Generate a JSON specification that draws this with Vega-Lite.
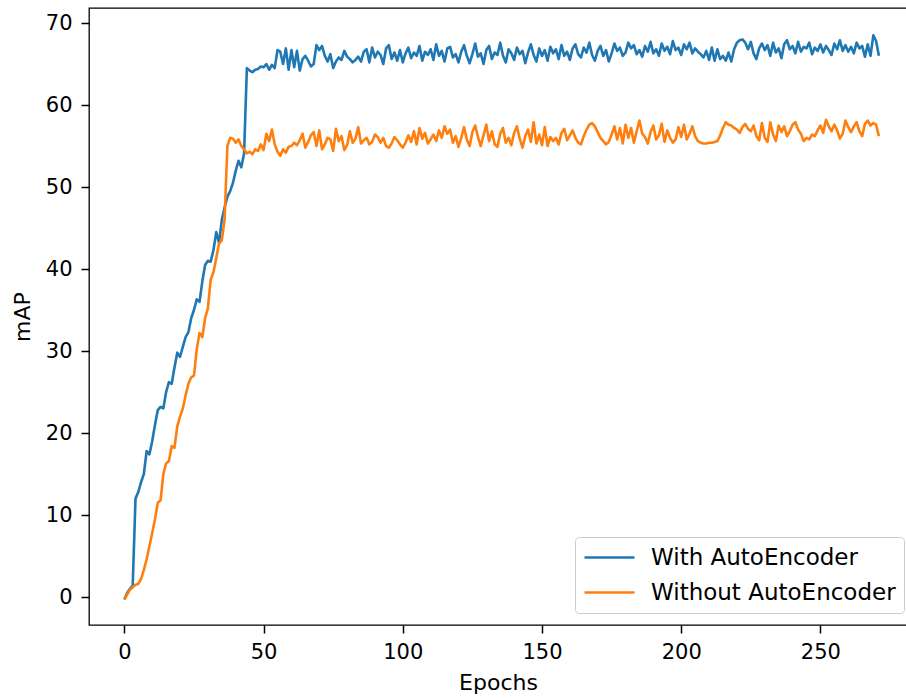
{
"$schema": "https://vega.github.io/schema/vega-lite/v6.json",
"width": 818, "height": 617,
"autosize": {"type": "none"},
"padding": {"left": 89, "top": 8, "right": 0, "bottom": 73},
"background": "white",
"data": {"values": [
{"e":0,"With AutoEncoder":-0.3,"Without AutoEncoder":-0.3},
{"e":1,"With AutoEncoder":0.5,"Without AutoEncoder":0.3},
{"e":2,"With AutoEncoder":1.0,"Without AutoEncoder":0.9},
{"e":3,"With AutoEncoder":1.4,"Without AutoEncoder":1.2},
{"e":4,"With AutoEncoder":12.0,"Without AutoEncoder":1.5},
{"e":5,"With AutoEncoder":12.8,"Without AutoEncoder":1.6},
{"e":6,"With AutoEncoder":14.0,"Without AutoEncoder":2.2},
{"e":7,"With AutoEncoder":15.0,"Without AutoEncoder":3.3},
{"e":8,"With AutoEncoder":17.8,"Without AutoEncoder":4.6},
{"e":9,"With AutoEncoder":17.4,"Without AutoEncoder":6.2},
{"e":10,"With AutoEncoder":19.0,"Without AutoEncoder":7.8},
{"e":11,"With AutoEncoder":21.0,"Without AutoEncoder":9.5},
{"e":12,"With AutoEncoder":22.8,"Without AutoEncoder":11.5},
{"e":13,"With AutoEncoder":23.2,"Without AutoEncoder":11.8},
{"e":14,"With AutoEncoder":23.0,"Without AutoEncoder":15.0},
{"e":15,"With AutoEncoder":25.0,"Without AutoEncoder":16.3},
{"e":16,"With AutoEncoder":26.2,"Without AutoEncoder":16.6},
{"e":17,"With AutoEncoder":26.0,"Without AutoEncoder":18.4},
{"e":18,"With AutoEncoder":28.0,"Without AutoEncoder":18.2},
{"e":19,"With AutoEncoder":29.8,"Without AutoEncoder":20.8},
{"e":20,"With AutoEncoder":29.3,"Without AutoEncoder":22.0},
{"e":21,"With AutoEncoder":30.5,"Without AutoEncoder":23.0},
{"e":22,"With AutoEncoder":31.7,"Without AutoEncoder":24.6},
{"e":23,"With AutoEncoder":32.3,"Without AutoEncoder":26.0},
{"e":24,"With AutoEncoder":34.0,"Without AutoEncoder":26.8},
{"e":25,"With AutoEncoder":35.0,"Without AutoEncoder":27.0},
{"e":26,"With AutoEncoder":36.3,"Without AutoEncoder":30.2},
{"e":27,"With AutoEncoder":36.0,"Without AutoEncoder":32.2},
{"e":28,"With AutoEncoder":38.5,"Without AutoEncoder":31.7},
{"e":29,"With AutoEncoder":40.5,"Without AutoEncoder":34.0},
{"e":30,"With AutoEncoder":41.0,"Without AutoEncoder":35.2},
{"e":31,"With AutoEncoder":40.9,"Without AutoEncoder":38.7},
{"e":32,"With AutoEncoder":42.3,"Without AutoEncoder":39.6},
{"e":33,"With AutoEncoder":44.5,"Without AutoEncoder":41.3},
{"e":34,"With AutoEncoder":43.2,"Without AutoEncoder":43.1},
{"e":35,"With AutoEncoder":46.0,"Without AutoEncoder":43.5},
{"e":36,"With AutoEncoder":47.5,"Without AutoEncoder":46.0},
{"e":37,"With AutoEncoder":48.8,"Without AutoEncoder":55.0},
{"e":38,"With AutoEncoder":49.5,"Without AutoEncoder":56.0},
{"e":39,"With AutoEncoder":50.5,"Without AutoEncoder":55.9},
{"e":40,"With AutoEncoder":52.0,"Without AutoEncoder":55.4},
{"e":41,"With AutoEncoder":53.2,"Without AutoEncoder":55.8},
{"e":42,"With AutoEncoder":52.4,"Without AutoEncoder":55.0},
{"e":43,"With AutoEncoder":54.1,"Without AutoEncoder":54.6},
{"e":44,"With AutoEncoder":64.5,"Without AutoEncoder":54.1},
{"e":45,"With AutoEncoder":64.2,"Without AutoEncoder":54.3},
{"e":46,"With AutoEncoder":64.0,"Without AutoEncoder":54.0},
{"e":47,"With AutoEncoder":64.3,"Without AutoEncoder":54.6},
{"e":48,"With AutoEncoder":64.4,"Without AutoEncoder":54.4},
{"e":49,"With AutoEncoder":64.7,"Without AutoEncoder":55.2},
{"e":50,"With AutoEncoder":64.6,"Without AutoEncoder":54.5},
{"e":51,"With AutoEncoder":65.0,"Without AutoEncoder":56.5},
{"e":52,"With AutoEncoder":64.3,"Without AutoEncoder":55.6},
{"e":53,"With AutoEncoder":64.9,"Without AutoEncoder":57.0},
{"e":54,"With AutoEncoder":64.5,"Without AutoEncoder":55.2},
{"e":55,"With AutoEncoder":66.7,"Without AutoEncoder":54.3},
{"e":56,"With AutoEncoder":66.5,"Without AutoEncoder":53.8},
{"e":57,"With AutoEncoder":65.0,"Without AutoEncoder":54.6},
{"e":58,"With AutoEncoder":66.9,"Without AutoEncoder":54.2},
{"e":59,"With AutoEncoder":64.3,"Without AutoEncoder":54.9},
{"e":60,"With AutoEncoder":66.7,"Without AutoEncoder":55.0},
{"e":61,"With AutoEncoder":64.6,"Without AutoEncoder":55.4},
{"e":62,"With AutoEncoder":66.6,"Without AutoEncoder":55.1},
{"e":63,"With AutoEncoder":64.2,"Without AutoEncoder":55.7},
{"e":64,"With AutoEncoder":65.6,"Without AutoEncoder":56.5},
{"e":65,"With AutoEncoder":66.0,"Without AutoEncoder":54.8},
{"e":66,"With AutoEncoder":65.4,"Without AutoEncoder":55.5},
{"e":67,"With AutoEncoder":64.7,"Without AutoEncoder":56.3},
{"e":68,"With AutoEncoder":65.0,"Without AutoEncoder":56.7},
{"e":69,"With AutoEncoder":67.3,"Without AutoEncoder":55.0},
{"e":70,"With AutoEncoder":66.7,"Without AutoEncoder":56.9},
{"e":71,"With AutoEncoder":67.2,"Without AutoEncoder":54.6},
{"e":72,"With AutoEncoder":66.0,"Without AutoEncoder":55.2},
{"e":73,"With AutoEncoder":65.3,"Without AutoEncoder":56.0},
{"e":74,"With AutoEncoder":66.2,"Without AutoEncoder":55.8},
{"e":75,"With AutoEncoder":64.5,"Without AutoEncoder":54.4},
{"e":76,"With AutoEncoder":65.3,"Without AutoEncoder":57.1},
{"e":77,"With AutoEncoder":65.8,"Without AutoEncoder":55.6},
{"e":78,"With AutoEncoder":65.5,"Without AutoEncoder":56.2},
{"e":79,"With AutoEncoder":66.6,"Without AutoEncoder":54.5},
{"e":80,"With AutoEncoder":65.9,"Without AutoEncoder":55.1},
{"e":81,"With AutoEncoder":65.6,"Without AutoEncoder":56.8},
{"e":82,"With AutoEncoder":65.2,"Without AutoEncoder":55.4},
{"e":83,"With AutoEncoder":65.5,"Without AutoEncoder":55.9},
{"e":84,"With AutoEncoder":65.9,"Without AutoEncoder":57.3},
{"e":85,"With AutoEncoder":65.3,"Without AutoEncoder":55.3},
{"e":86,"With AutoEncoder":66.5,"Without AutoEncoder":55.7},
{"e":87,"With AutoEncoder":66.8,"Without AutoEncoder":56.0},
{"e":88,"With AutoEncoder":65.2,"Without AutoEncoder":55.2},
{"e":89,"With AutoEncoder":67.0,"Without AutoEncoder":55.5},
{"e":90,"With AutoEncoder":65.8,"Without AutoEncoder":56.4},
{"e":91,"With AutoEncoder":66.5,"Without AutoEncoder":56.1},
{"e":92,"With AutoEncoder":66.1,"Without AutoEncoder":55.4},
{"e":93,"With AutoEncoder":65.0,"Without AutoEncoder":56.0},
{"e":94,"With AutoEncoder":66.9,"Without AutoEncoder":55.0},
{"e":95,"With AutoEncoder":67.3,"Without AutoEncoder":54.8},
{"e":96,"With AutoEncoder":65.6,"Without AutoEncoder":55.3},
{"e":97,"With AutoEncoder":66.4,"Without AutoEncoder":56.1},
{"e":98,"With AutoEncoder":65.4,"Without AutoEncoder":55.7},
{"e":99,"With AutoEncoder":66.7,"Without AutoEncoder":55.2},
{"e":100,"With AutoEncoder":65.2,"Without AutoEncoder":54.8},
{"e":101,"With AutoEncoder":66.3,"Without AutoEncoder":55.4},
{"e":102,"With AutoEncoder":67.0,"Without AutoEncoder":56.3},
{"e":103,"With AutoEncoder":65.7,"Without AutoEncoder":55.5},
{"e":104,"With AutoEncoder":66.4,"Without AutoEncoder":56.8},
{"e":105,"With AutoEncoder":66.0,"Without AutoEncoder":55.2},
{"e":106,"With AutoEncoder":67.2,"Without AutoEncoder":57.2},
{"e":107,"With AutoEncoder":65.4,"Without AutoEncoder":55.9},
{"e":108,"With AutoEncoder":66.5,"Without AutoEncoder":56.6},
{"e":109,"With AutoEncoder":66.1,"Without AutoEncoder":55.3},
{"e":110,"With AutoEncoder":66.8,"Without AutoEncoder":55.8},
{"e":111,"With AutoEncoder":65.5,"Without AutoEncoder":56.4},
{"e":112,"With AutoEncoder":67.4,"Without AutoEncoder":55.6},
{"e":113,"With AutoEncoder":66.0,"Without AutoEncoder":56.9},
{"e":114,"With AutoEncoder":66.6,"Without AutoEncoder":56.0},
{"e":115,"With AutoEncoder":65.3,"Without AutoEncoder":57.4},
{"e":116,"With AutoEncoder":66.9,"Without AutoEncoder":56.5},
{"e":117,"With AutoEncoder":67.1,"Without AutoEncoder":57.0},
{"e":118,"With AutoEncoder":65.8,"Without AutoEncoder":55.4},
{"e":119,"With AutoEncoder":66.2,"Without AutoEncoder":56.2},
{"e":120,"With AutoEncoder":65.2,"Without AutoEncoder":54.9},
{"e":121,"With AutoEncoder":66.5,"Without AutoEncoder":56.0},
{"e":122,"With AutoEncoder":67.3,"Without AutoEncoder":57.3},
{"e":123,"With AutoEncoder":66.0,"Without AutoEncoder":55.8},
{"e":124,"With AutoEncoder":65.1,"Without AutoEncoder":55.0},
{"e":125,"With AutoEncoder":66.2,"Without AutoEncoder":56.7},
{"e":126,"With AutoEncoder":67.5,"Without AutoEncoder":57.5},
{"e":127,"With AutoEncoder":65.9,"Without AutoEncoder":56.1},
{"e":128,"With AutoEncoder":66.3,"Without AutoEncoder":55.0},
{"e":129,"With AutoEncoder":65.0,"Without AutoEncoder":56.3},
{"e":130,"With AutoEncoder":66.7,"Without AutoEncoder":57.6},
{"e":131,"With AutoEncoder":67.2,"Without AutoEncoder":55.6},
{"e":132,"With AutoEncoder":65.6,"Without AutoEncoder":56.8},
{"e":133,"With AutoEncoder":66.4,"Without AutoEncoder":55.2},
{"e":134,"With AutoEncoder":66.1,"Without AutoEncoder":54.9},
{"e":135,"With AutoEncoder":67.6,"Without AutoEncoder":56.5},
{"e":136,"With AutoEncoder":66.0,"Without AutoEncoder":57.2},
{"e":137,"With AutoEncoder":65.2,"Without AutoEncoder":55.4},
{"e":138,"With AutoEncoder":66.8,"Without AutoEncoder":56.0},
{"e":139,"With AutoEncoder":66.3,"Without AutoEncoder":55.1},
{"e":140,"With AutoEncoder":65.5,"Without AutoEncoder":56.6},
{"e":141,"With AutoEncoder":67.0,"Without AutoEncoder":57.4},
{"e":142,"With AutoEncoder":66.2,"Without AutoEncoder":55.9},
{"e":143,"With AutoEncoder":66.6,"Without AutoEncoder":54.8},
{"e":144,"With AutoEncoder":65.1,"Without AutoEncoder":56.2},
{"e":145,"With AutoEncoder":66.4,"Without AutoEncoder":57.0},
{"e":146,"With AutoEncoder":67.4,"Without AutoEncoder":55.5},
{"e":147,"With AutoEncoder":66.1,"Without AutoEncoder":57.9},
{"e":148,"With AutoEncoder":65.3,"Without AutoEncoder":55.3},
{"e":149,"With AutoEncoder":66.9,"Without AutoEncoder":56.4},
{"e":150,"With AutoEncoder":66.0,"Without AutoEncoder":55.1},
{"e":151,"With AutoEncoder":66.7,"Without AutoEncoder":57.3},
{"e":152,"With AutoEncoder":65.4,"Without AutoEncoder":55.0},
{"e":153,"With AutoEncoder":67.1,"Without AutoEncoder":56.1},
{"e":154,"With AutoEncoder":66.3,"Without AutoEncoder":55.6},
{"e":155,"With AutoEncoder":66.8,"Without AutoEncoder":56.0},
{"e":156,"With AutoEncoder":65.6,"Without AutoEncoder":55.2},
{"e":157,"With AutoEncoder":67.3,"Without AutoEncoder":56.6},
{"e":158,"With AutoEncoder":66.0,"Without AutoEncoder":57.1},
{"e":159,"With AutoEncoder":66.5,"Without AutoEncoder":55.7},
{"e":160,"With AutoEncoder":65.5,"Without AutoEncoder":56.3},
{"e":161,"With AutoEncoder":66.9,"Without AutoEncoder":56.9},
{"e":162,"With AutoEncoder":67.4,"Without AutoEncoder":56.0},
{"e":163,"With AutoEncoder":66.2,"Without AutoEncoder":55.4},
{"e":164,"With AutoEncoder":65.8,"Without AutoEncoder":55.2},
{"e":165,"With AutoEncoder":67.0,"Without AutoEncoder":56.2},
{"e":166,"With AutoEncoder":66.4,"Without AutoEncoder":57.0},
{"e":167,"With AutoEncoder":67.6,"Without AutoEncoder":57.6},
{"e":168,"With AutoEncoder":66.1,"Without AutoEncoder":57.8},
{"e":169,"With AutoEncoder":65.4,"Without AutoEncoder":57.4},
{"e":170,"With AutoEncoder":66.6,"Without AutoEncoder":56.7},
{"e":171,"With AutoEncoder":67.2,"Without AutoEncoder":56.0},
{"e":172,"With AutoEncoder":66.0,"Without AutoEncoder":55.6},
{"e":173,"With AutoEncoder":66.7,"Without AutoEncoder":55.2},
{"e":174,"With AutoEncoder":65.3,"Without AutoEncoder":55.5},
{"e":175,"With AutoEncoder":66.3,"Without AutoEncoder":56.4},
{"e":176,"With AutoEncoder":67.5,"Without AutoEncoder":57.4},
{"e":177,"With AutoEncoder":66.6,"Without AutoEncoder":55.8},
{"e":178,"With AutoEncoder":67.0,"Without AutoEncoder":57.2},
{"e":179,"With AutoEncoder":66.0,"Without AutoEncoder":55.3},
{"e":180,"With AutoEncoder":66.4,"Without AutoEncoder":57.6},
{"e":181,"With AutoEncoder":67.6,"Without AutoEncoder":56.0},
{"e":182,"With AutoEncoder":66.9,"Without AutoEncoder":57.2},
{"e":183,"With AutoEncoder":67.3,"Without AutoEncoder":55.4},
{"e":184,"With AutoEncoder":66.2,"Without AutoEncoder":56.8},
{"e":185,"With AutoEncoder":66.7,"Without AutoEncoder":58.1},
{"e":186,"With AutoEncoder":65.9,"Without AutoEncoder":56.5},
{"e":187,"With AutoEncoder":67.2,"Without AutoEncoder":56.1},
{"e":188,"With AutoEncoder":66.5,"Without AutoEncoder":55.3},
{"e":189,"With AutoEncoder":67.7,"Without AutoEncoder":56.7},
{"e":190,"With AutoEncoder":66.3,"Without AutoEncoder":57.5},
{"e":191,"With AutoEncoder":66.8,"Without AutoEncoder":55.8},
{"e":192,"With AutoEncoder":66.0,"Without AutoEncoder":56.3},
{"e":193,"With AutoEncoder":67.5,"Without AutoEncoder":57.7},
{"e":194,"With AutoEncoder":66.6,"Without AutoEncoder":55.5},
{"e":195,"With AutoEncoder":67.1,"Without AutoEncoder":56.9},
{"e":196,"With AutoEncoder":66.2,"Without AutoEncoder":56.0},
{"e":197,"With AutoEncoder":67.8,"Without AutoEncoder":55.4},
{"e":198,"With AutoEncoder":66.7,"Without AutoEncoder":55.8},
{"e":199,"With AutoEncoder":67.0,"Without AutoEncoder":57.3},
{"e":200,"With AutoEncoder":66.1,"Without AutoEncoder":56.1},
{"e":201,"With AutoEncoder":67.4,"Without AutoEncoder":57.6},
{"e":202,"With AutoEncoder":66.8,"Without AutoEncoder":55.8},
{"e":203,"With AutoEncoder":67.6,"Without AutoEncoder":56.5},
{"e":204,"With AutoEncoder":66.3,"Without AutoEncoder":57.4},
{"e":205,"With AutoEncoder":66.9,"Without AutoEncoder":56.2},
{"e":206,"With AutoEncoder":66.5,"Without AutoEncoder":55.6},
{"e":207,"With AutoEncoder":66.2,"Without AutoEncoder":55.4},
{"e":208,"With AutoEncoder":65.8,"Without AutoEncoder":55.3},
{"e":209,"With AutoEncoder":66.6,"Without AutoEncoder":55.3},
{"e":210,"With AutoEncoder":65.5,"Without AutoEncoder":55.4},
{"e":211,"With AutoEncoder":67.0,"Without AutoEncoder":55.4},
{"e":212,"With AutoEncoder":65.4,"Without AutoEncoder":55.5},
{"e":213,"With AutoEncoder":66.8,"Without AutoEncoder":55.6},
{"e":214,"With AutoEncoder":65.6,"Without AutoEncoder":56.3},
{"e":215,"With AutoEncoder":66.0,"Without AutoEncoder":57.2},
{"e":216,"With AutoEncoder":65.4,"Without AutoEncoder":57.9},
{"e":217,"With AutoEncoder":66.4,"Without AutoEncoder":57.6},
{"e":218,"With AutoEncoder":65.3,"Without AutoEncoder":57.5},
{"e":219,"With AutoEncoder":66.8,"Without AutoEncoder":57.2},
{"e":220,"With AutoEncoder":67.6,"Without AutoEncoder":57.0},
{"e":221,"With AutoEncoder":67.9,"Without AutoEncoder":56.6},
{"e":222,"With AutoEncoder":68.0,"Without AutoEncoder":57.3},
{"e":223,"With AutoEncoder":67.6,"Without AutoEncoder":57.7},
{"e":224,"With AutoEncoder":66.8,"Without AutoEncoder":57.1},
{"e":225,"With AutoEncoder":67.7,"Without AutoEncoder":56.8},
{"e":226,"With AutoEncoder":66.3,"Without AutoEncoder":57.5},
{"e":227,"With AutoEncoder":65.6,"Without AutoEncoder":56.2},
{"e":228,"With AutoEncoder":66.9,"Without AutoEncoder":55.7},
{"e":229,"With AutoEncoder":67.5,"Without AutoEncoder":57.8},
{"e":230,"With AutoEncoder":66.7,"Without AutoEncoder":56.0},
{"e":231,"With AutoEncoder":67.3,"Without AutoEncoder":55.5},
{"e":232,"With AutoEncoder":66.0,"Without AutoEncoder":57.9},
{"e":233,"With AutoEncoder":67.6,"Without AutoEncoder":56.4},
{"e":234,"With AutoEncoder":66.4,"Without AutoEncoder":55.6},
{"e":235,"With AutoEncoder":66.9,"Without AutoEncoder":57.5},
{"e":236,"With AutoEncoder":65.7,"Without AutoEncoder":56.7},
{"e":237,"With AutoEncoder":67.4,"Without AutoEncoder":57.4},
{"e":238,"With AutoEncoder":67.9,"Without AutoEncoder":56.2},
{"e":239,"With AutoEncoder":66.8,"Without AutoEncoder":56.8},
{"e":240,"With AutoEncoder":67.2,"Without AutoEncoder":57.6},
{"e":241,"With AutoEncoder":66.3,"Without AutoEncoder":57.9},
{"e":242,"With AutoEncoder":67.7,"Without AutoEncoder":57.0},
{"e":243,"With AutoEncoder":66.5,"Without AutoEncoder":56.5},
{"e":244,"With AutoEncoder":67.1,"Without AutoEncoder":55.6},
{"e":245,"With AutoEncoder":66.9,"Without AutoEncoder":56.0},
{"e":246,"With AutoEncoder":67.6,"Without AutoEncoder":55.8},
{"e":247,"With AutoEncoder":66.2,"Without AutoEncoder":56.4},
{"e":248,"With AutoEncoder":67.0,"Without AutoEncoder":56.2},
{"e":249,"With AutoEncoder":66.6,"Without AutoEncoder":56.9},
{"e":250,"With AutoEncoder":67.4,"Without AutoEncoder":57.5},
{"e":251,"With AutoEncoder":66.4,"Without AutoEncoder":56.6},
{"e":252,"With AutoEncoder":67.2,"Without AutoEncoder":58.2},
{"e":253,"With AutoEncoder":66.7,"Without AutoEncoder":57.4},
{"e":254,"With AutoEncoder":66.1,"Without AutoEncoder":56.8},
{"e":255,"With AutoEncoder":67.5,"Without AutoEncoder":57.6},
{"e":256,"With AutoEncoder":66.8,"Without AutoEncoder":56.9},
{"e":257,"With AutoEncoder":67.9,"Without AutoEncoder":55.9},
{"e":258,"With AutoEncoder":66.6,"Without AutoEncoder":56.5},
{"e":259,"With AutoEncoder":67.3,"Without AutoEncoder":58.1},
{"e":260,"With AutoEncoder":66.5,"Without AutoEncoder":57.3},
{"e":261,"With AutoEncoder":67.1,"Without AutoEncoder":56.7},
{"e":262,"With AutoEncoder":66.3,"Without AutoEncoder":57.4},
{"e":263,"With AutoEncoder":67.6,"Without AutoEncoder":57.9},
{"e":264,"With AutoEncoder":66.9,"Without AutoEncoder":56.8},
{"e":265,"With AutoEncoder":67.2,"Without AutoEncoder":56.2},
{"e":266,"With AutoEncoder":65.9,"Without AutoEncoder":57.7},
{"e":267,"With AutoEncoder":67.4,"Without AutoEncoder":58.1},
{"e":268,"With AutoEncoder":66.0,"Without AutoEncoder":57.5},
{"e":269,"With AutoEncoder":68.5,"Without AutoEncoder":57.8},
{"e":270,"With AutoEncoder":67.8,"Without AutoEncoder":57.6},
{"e":271,"With AutoEncoder":66.0,"Without AutoEncoder":56.2}
]},
"transform": [{"fold": ["With AutoEncoder", "Without AutoEncoder"], "as": ["model", "mAP"]}],
"mark": {"type": "line", "strokeWidth": 2.6, "strokeJoin": "round", "clip": true},
"encoding": {
  "x": {"field": "e", "type": "quantitative", "scale": {"domain": [-12.7, 281.1], "nice": false, "zero": false},
        "axis": {"values": [0, 50, 100, 150, 200, 250], "title": "Epochs"}},
  "y": {"field": "mAP", "type": "quantitative", "scale": {"domain": [-3.41, 71.83], "nice": false, "zero": false},
        "axis": {"values": [0, 10, 20, 30, 40, 50, 60, 70], "title": "mAP"}},
  "color": {"field": "model", "type": "nominal",
            "scale": {"domain": ["With AutoEncoder", "Without AutoEncoder"], "range": ["#1f77b4", "#ff7f0e"]},
            "legend": {"title": null, "orient": "none", "legendX": 486, "legendY": 529,
                       "symbolType": "stroke", "symbolSize": 2500, "symbolStrokeWidth": 2.5,
                       "labelFontSize": 23, "labelFont": "DejaVu Sans", "labelColor": "#000000", "labelOffset": 15,
                       "labelLimit": 0, "clipHeight": 25,
                       "padding": 8, "fillColor": "white", "strokeColor": "#cccccc", "cornerRadius": 4, "rowPadding": 10}}
},
"config": {
  "view": {"stroke": "#000000", "strokeWidth": 1.3},
  "axis": {"grid": false, "domain": false, "tickColor": "#000000", "tickSize": 8, "tickWidth": 1.5,
           "labelFont": "DejaVu Sans", "labelFontSize": 21, "labelColor": "#000000",
           "titleFont": "DejaVu Sans", "titleFontSize": 22, "titleFontWeight": "normal", "titleColor": "#000000"},
  "axisX": {"labelPadding": 8, "titlePadding": 10},
  "axisY": {"labelPadding": 9, "titlePadding": 11}
}
}
